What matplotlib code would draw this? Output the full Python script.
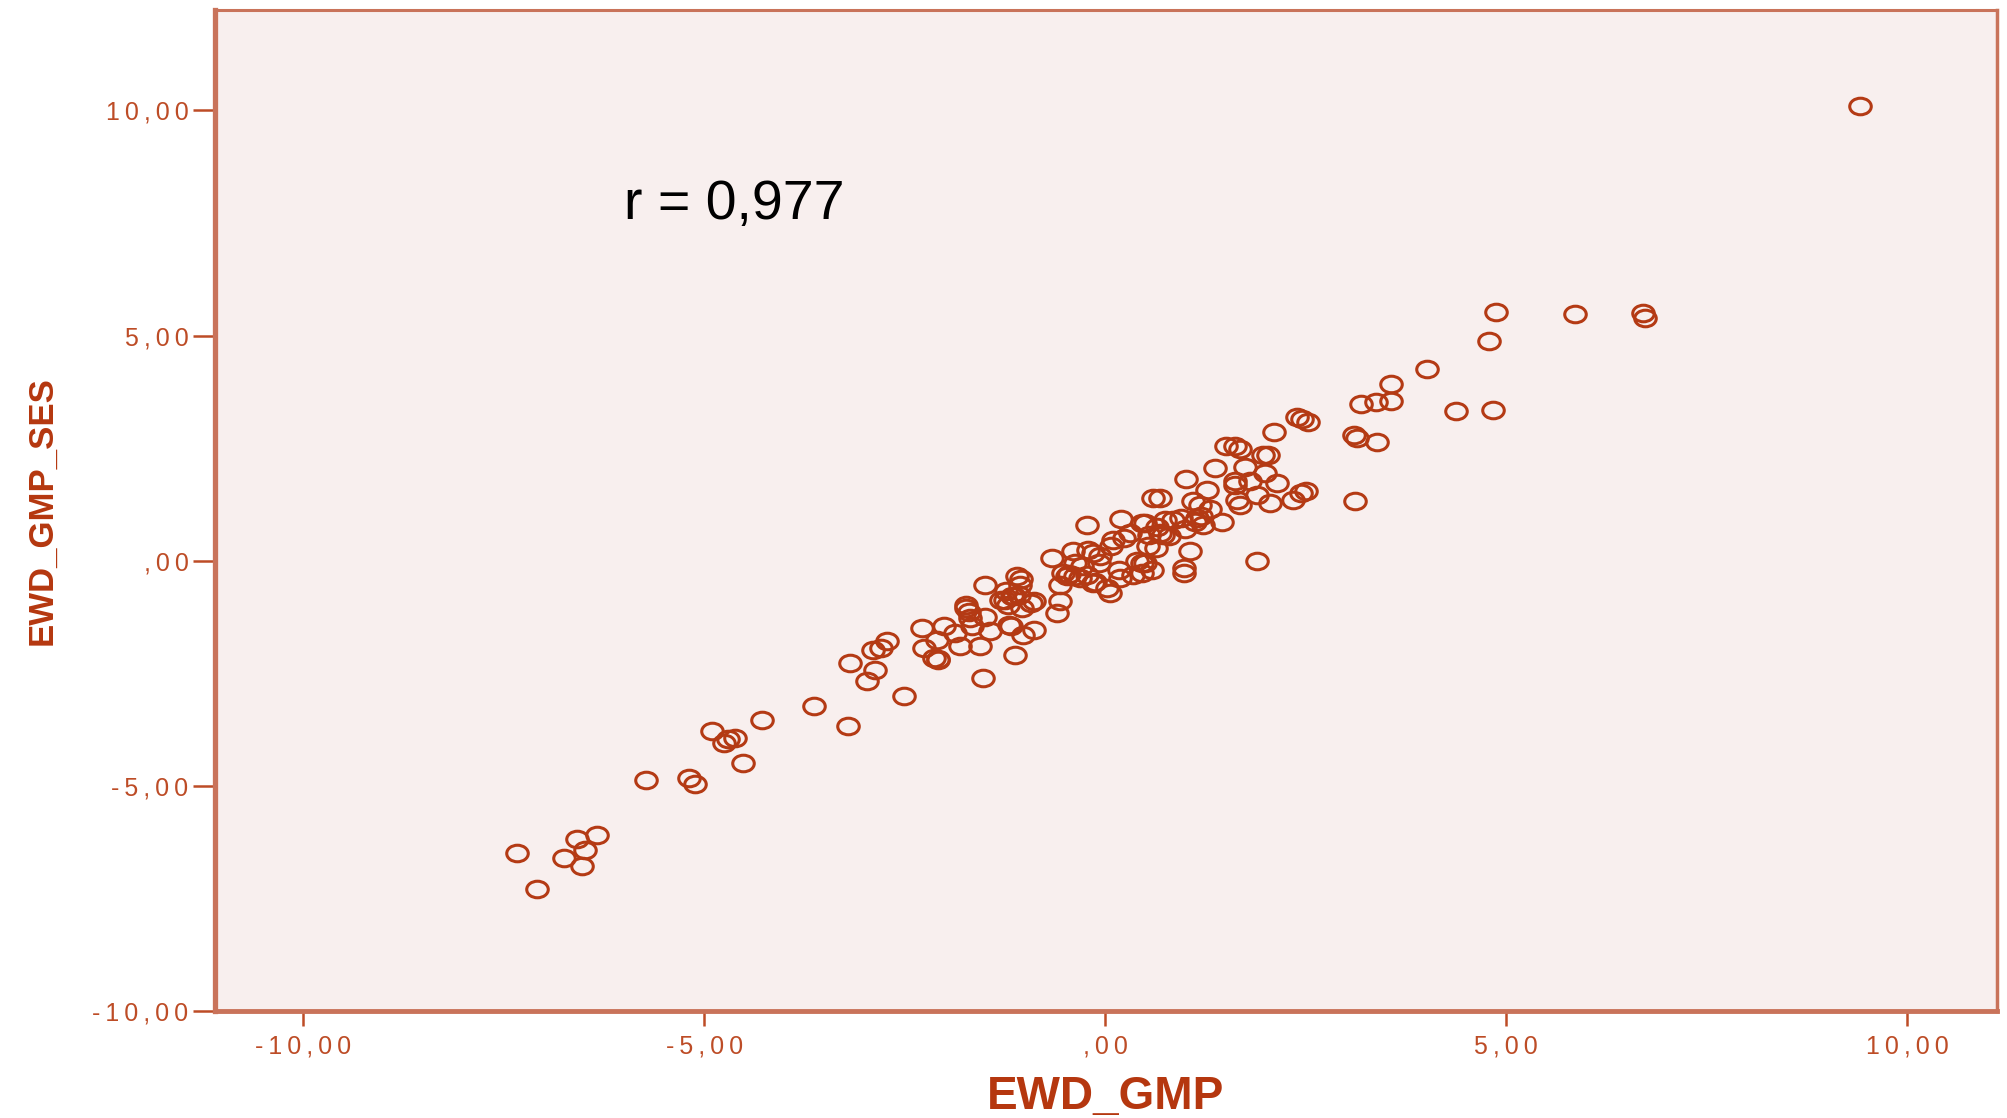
import numpy as np
import matplotlib
matplotlib.use("Agg")
import matplotlib.pyplot as plt
from matplotlib.path import Path
import matplotlib.transforms as mtransforms

plt.rcParams['font.family'] = ['Liberation Sans', 'DejaVu Sans']

# EWD_GMP values (x)
ewd_gmp = [
    -7.33, -7.09, -6.75, -6.58, -6.48, -6.52, -6.34, -5.73, -5.19, -5.11,
    -4.90, -4.75, -4.61, -4.70, -4.51, -4.28, -3.63, -3.21, -3.18, -2.97,
    -2.87, -2.89, -2.80, -2.72, -2.51, -2.28, -2.26, -2.10, -2.08, -2.14,
    -2.01, -1.87, -1.81, -1.74, -1.70, -1.68, -1.56, -1.50, -1.43, -1.52,
    -1.50, -1.25, -1.20, -1.14, -1.10, -1.06, -1.12, -1.02, -0.89, -0.89,
    -1.04, -0.60, -0.56, -0.56, -0.48, -0.31, -0.23, -0.15, 0.02, 0.06,
    0.35, 0.19, -0.66, -0.40, -0.23, 0.20, 0.46, 0.65, 0.75, 1.22,
    1.46, -0.21, -0.07, -0.15, 0.17, 0.46, 0.58, 0.98, 1.06, 0.53,
    0.07, 0.10, 0.31, 0.55, 0.79, 1.00, 1.12, 1.20, 0.60, 0.68,
    1.01, 1.37, 1.74, 1.51, 1.62, 1.68, 1.97, 2.03, 2.10, 2.39,
    2.46, 2.53, 3.10, 3.14, 3.39, 3.19, 3.38, 3.57, 3.57, 4.01,
    4.37, 4.83, 4.78, 4.87, 5.86, 6.71, 6.73, 9.41, 1.27, 1.62,
    1.62, 1.81, 1.99, 2.14, 1.89, 2.06, 1.64, 1.68, 2.34, 2.44,
    2.51, 3.12, 1.18, 0.50, 0.69, 0.72, 1.89, 0.98, 0.50, 0.85,
    0.95, 1.10, 1.31, -0.52, -0.37, -0.45, -1.16, -0.92, -1.18, -1.30,
    -1.21, -1.73, -1.66, -2.09, 0.40, 0.46, 0.24, -0.08, -0.29, -0.37,
    -0.13, 0.64, 1.15, -1.24, -1.05, -1.08,
]

# EWD_GMP_SES values (y)
ewd_gmp_ses = [
    -6.50, -7.29, -6.60, -6.18, -6.43, -6.79, -6.10, -4.86, -4.82, -4.95,
    -3.79, -4.05, -3.94, -3.97, -4.49, -3.53, -3.23, -3.66, -2.27, -2.66,
    -2.43, -1.98, -1.94, -1.79, -3.00, -1.49, -1.94, -1.75, -2.18, -2.15,
    -1.46, -1.61, -1.90, -0.98, -1.13, -1.27, -1.90, -1.24, -1.57, -2.60,
    -0.53, -0.87, -1.42, -0.79, -0.35, -0.53, -2.09, -1.64, -1.53, -0.90,
    -1.05, -1.16, -0.90, -0.53, -0.35, -0.38, -0.31, -0.50, -0.61, -0.72,
    -0.31, -0.38, 0.06, 0.21, 0.80, 0.92, 0.84, 0.76, 0.91, 0.80,
    0.85, 0.24, 0.10, 0.17, -0.20, -0.05, -0.20, -0.27, 0.21, 0.32,
    0.32, 0.47, 0.62, 0.58, 0.55, 0.70, 0.85, 1.00, 1.39, 1.39,
    1.81, 2.06, 2.09, 2.54, 2.55, 2.48, 2.35, 2.35, 2.85, 3.20,
    3.14, 3.09, 2.80, 2.73, 2.63, 3.49, 3.52, 3.54, 3.92, 4.26,
    3.33, 3.34, 4.87, 5.52, 5.49, 5.51, 5.40, 10.11, 1.58, 1.76,
    1.69, 1.76, 1.95, 1.72, 1.47, 1.28, 1.35, 1.24, 1.35, 1.50,
    1.54, 1.32, 1.24, 0.84, 0.62, 0.58, -0.01, -0.16, -0.05, 0.91,
    0.95, 1.32, 1.14, -0.27, -0.35, -0.30, -0.79, -0.94, -1.46, -0.87,
    -0.98, -1.05, -1.46, -2.20, 0.00, -0.28, 0.51, -0.06, -0.11, -0.06,
    -0.48, 0.28, 0.94, -0.68, -0.40, -0.77,
]

tick_values = [-10, -5, 0, 5, 10]
tick_labels = ['-10,00', '-5,00', ',00', '5,00', '10,00']
r_text = 'r = 0,977'

marker_col = '#B43A14'
label_col = '#B5370F'
tick_col = '#BD4C26'
spine_col = '#C9735A'
face_col = '#F8EFEE'

# the original tick labels are letter-spaced, so put thin spaces between chars
spaced_labels = ['\u2009'.join(lbl) for lbl in tick_labels]

fig = plt.figure(figsize=(20.07, 11.18), dpi=100)
ax = fig.add_axes([0.1071, 0.0957, 0.8879, 0.8953])
ax.set_facecolor(face_col)

# open circles, a bit wider than tall like the original
ellipse = Path.unit_circle().transformed(mtransforms.Affine2D().scale(1.3, 1.0))
ax.plot(ewd_gmp, ewd_gmp_ses, linestyle='none', marker=ellipse, markersize=15.5,
        markerfacecolor='none', markeredgecolor=marker_col, markeredgewidth=2.2)

ax.set_xlim(-11.1, 11.12)
ax.set_ylim(-10, 12.23)

ax.set_xticks(tick_values)
ax.set_xticklabels(spaced_labels)
ax.set_yticks(tick_values)
ax.set_yticklabels(spaced_labels)
ax.tick_params(axis='both', direction='out', width=1.8,
               color=tick_col, labelcolor=tick_col, labelsize=18)
ax.tick_params(axis='x', length=11, pad=6)
ax.tick_params(axis='y', length=16, pad=3)

for side, lw in [('left', 3.8), ('bottom', 3.5), ('top', 2.2), ('right', 2.5)]:
    ax.spines[side].set_color(spine_col)
    ax.spines[side].set_linewidth(lw)

ax.set_xlabel('EWD_GMP', fontsize=33, fontweight='bold', color=label_col)
ax.set_ylabel('EWD_GMP_SES', fontsize=25, fontweight='bold', color=label_col)
ax.xaxis.set_label_coords(0.5, -0.064)
ax.yaxis.set_label_coords(-0.088, 0.5)

ax.text(-6.0, 7.9, r_text, fontsize=40, color='black', ha='left', va='center')

fig.savefig('out.png', dpi=100)
